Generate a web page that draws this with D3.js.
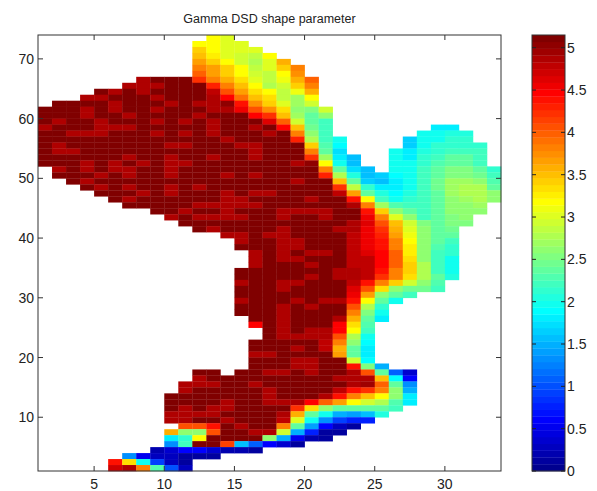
<!DOCTYPE html>
<html>
<head>
<meta charset="utf-8">
<script src="https://d3js.org/d3.v7.min.js"></script>
<style>
  body { margin: 0; background: #fff; }
  text { font-family: "Liberation Sans", Arial, sans-serif; fill: #222; }
</style>
</head>
<body>
<div id="chart"></div>
<script>
var chartTitle = "Gamma DSD shape parameter";
var xTicks = [5, 10, 15, 20, 25, 30];
var yTicks = [10, 20, 30, 40, 50, 60, 70];
var barTicks = [0, 0.5, 1, 1.5, 2, 2.5, 3, 3.5, 4, 4.5, 5];
var maxValue = 5.15;
var _ = null, D = 5.15, L = 4.9;

// [y of the cell, x of first cell, values going right]; null = no data
var gammaRows = [
  [73,13,[3.2,3.0]],
  [72,12,[3.2,3.2,3.0,3.0]],
  [71,12,[3.4,3.2,3.0,3.05,3.05]],
  [70,12,[3.5,3.25,3.0,2.95,2.85,3.15]],
  [69,12,[3.65,3.45,3.15,2.95,2.8,3.05,3.55]],
  [68,12,[3.8,3.65,3.4,3.2,2.85,3.0,3.4,3.85]],
  [67,12,[3.95,3.7,3.45,3.2,2.9,2.85,3.2,3.75]],
  [66,8,[L,D,D,D,4.25,3.8,3.55,3.3,3.0,2.85,3.1,3.55,4.0]],
  [65,7,[L,L,L,D,D,D,4.3,3.8,3.5,3.15,2.8,2.9,3.4,3.8]],
  [64,5,[D,L,D,L,D,D,D,D,4.75,4.05,3.7,3.35,3.2,2.85,3.1,3.55]],
  [63,4,[L,L,D,D,D,L,D,D,D,L,4.45,3.9,3.5,3.3,2.85,2.7,3.2]],
  [62,2,[D,D,D,D,L,D,D,D,L,D,L,L,5.0,4.4,3.75,3.45,3.0,2.7,2.95]],
  [61,1,[D,D,D,L,D,L,D,D,L,D,D,D,L,L,4.55,4.1,3.75,3.3,2.65,2.55,2.9]],
  [60,1,[D,D,D,L,D,D,L,D,D,D,D,L,D,D,D,4.5,4.2,3.5,2.7,2.4,2.65]],
  [59,1,[D,L,D,D,L,D,D,D,L,D,L,D,L,D,D,D,4.6,4.0,2.9,2.35,2.25]],
  [58,1,[L,D,D,D,L,L,L,D,D,D,D,D,L,D,D,L,D,4.45,3.5,2.45,2.2,_,_,_,_,_,_,_,1.85,1.85]],
  [57,1,[D,D,L,L,L,D,D,D,L,D,L,D,L,D,D,D,L,D,3.85,2.65,2.2,_,_,_,_,_,_,1.95,1.95,2.05,2.05]],
  [56,1,[D,D,D,D,D,D,D,D,D,D,D,D,D,L,D,D,D,D,4.3,2.8,2.2,2.0,_,_,_,_,1.65,1.95,2.0,2.1,2.1]],
  [55,1,[D,L,D,D,D,D,D,D,D,L,L,D,D,D,L,L,D,D,D,3.4,2.3,1.9,_,_,_,_,1.65,1.95,2.1,2.15,2.15,2.15]],
  [54,1,[D,L,L,D,D,D,D,D,D,D,D,D,D,D,D,L,D,D,D,3.85,2.4,1.7,_,_,_,2.0,1.8,2.05,2.15,2.2,2.2,2.2]],
  [53,1,[D,D,D,D,D,D,L,D,D,L,D,D,L,D,D,L,D,D,D,4.25,2.7,1.8,1.55,_,_,2.0,1.85,2.1,2.25,2.4,2.4,2.25]],
  [52,1,[D,D,D,L,D,L,D,L,D,L,L,D,D,D,D,D,D,D,L,5.0,3.2,2.0,1.55,_,_,2.0,1.95,2.15,2.3,2.4,2.4,2.25]],
  [51,2,[L,D,L,D,L,L,D,D,L,D,D,D,D,D,D,D,D,D,D,3.8,2.35,1.7,1.6,_,2.0,2.0,2.2,2.35,2.5,2.5,2.4,2.15]],
  [50,2,[D,D,D,L,D,L,D,D,L,D,D,D,L,D,L,D,D,D,D,4.3,2.8,2.05,1.6,1.65,1.9,2.0,2.2,2.4,2.55,2.55,2.45,2.25]],
  [49,3,[D,L,D,D,D,D,D,D,D,D,D,D,D,D,D,D,L,D,D,3.5,2.4,1.65,1.6,1.85,2.0,2.2,2.45,2.7,2.7,2.6,2.3]],
  [48,4,[D,L,D,L,D,D,L,D,L,D,D,D,D,D,D,D,D,D,4.2,2.85,2.1,1.85,1.85,2.0,2.2,2.45,2.7,2.75,2.75,2.4]],
  [47,5,[D,D,D,L,D,L,D,D,D,L,D,L,L,D,D,D,D,4.75,3.7,2.4,2.05,1.9,2.05,2.2,2.4,2.7,2.75,2.75,2.6]],
  [46,6,[D,L,D,D,D,D,D,D,L,L,D,D,D,D,L,D,D,4.4,3.2,2.25,2.0,2.1,2.2,2.35,2.6,2.7,2.75,2.65]],
  [45,7,[D,D,D,D,D,L,L,L,L,L,D,D,D,D,D,D,4.85,3.85,2.7,2.3,2.2,2.2,2.35,2.6,2.65,2.7]],
  [44,9,[D,D,L,D,D,L,D,D,D,L,L,L,L,D,D,4.35,3.4,2.65,2.35,2.25,2.35,2.6,2.65,2.65]],
  [43,10,[L,D,L,L,L,L,D,D,L,D,D,L,D,D,4.55,3.8,3.05,2.65,2.25,2.4,2.55,2.6]],
  [42,11,[D,D,D,D,D,D,D,D,D,D,D,D,4.9,4.6,4.1,3.5,2.9,2.5,2.4,2.5,2.55]],
  [41,12,[D,L,D,D,D,D,L,D,D,D,L,4.85,4.55,4.2,3.6,3.0,2.6,2.4,2.45]],
  [40,14,[L,L,D,L,L,D,D,D,D,4.8,4.55,4.3,3.7,3.1,2.65,2.4,2.35]],
  [39,15,[L,D,D,L,L,D,D,D,4.75,4.55,4.35,3.8,3.2,2.65,2.35,2.2]],
  [38,15,[D,D,D,L,L,D,D,D,4.75,4.55,4.4,3.85,3.25,2.65,2.3,2.15]],
  [37,16,[L,D,L,D,L,L,D,4.8,4.65,4.45,3.95,3.25,2.6,2.2,2.1]],
  [36,16,[L,D,L,L,D,D,D,4.8,4.75,4.45,3.95,3.35,2.6,2.2,2.0]],
  [35,16,[L,D,D,D,L,D,D,4.8,4.75,4.45,3.95,3.45,2.75,2.2,2.0]],
  [34,15,[D,D,D,D,D,D,D,L,4.9,4.75,4.4,3.85,3.45,2.8,2.25,2.0]],
  [33,15,[D,D,D,D,D,L,D,L,L,4.75,4.2,3.8,3.3,2.75,2.35,2.05]],
  [32,15,[L,D,D,L,L,D,D,D,4.8,4.4,3.8,3.4,2.9,2.6,2.3]],
  [31,15,[D,D,D,L,D,D,D,D,4.65,4.05,3.35,2.6,2.45,2.45,2.2]],
  [30,15,[D,D,D,D,D,D,D,D,4.55,3.65,2.6,2.35,2.2]],
  [29,15,[L,D,D,D,L,D,L,L,4.4,3.2,2.4,2.0]],
  [28,15,[D,D,D,L,D,L,D,D,4.05,2.8,2.15]],
  [27,15,[D,D,D,L,D,D,D,D,3.85,2.55,2.0]],
  [26,16,[D,D,L,D,D,D,L,3.6,2.4,1.8]],
  [25,16,[4.45,D,L,D,D,D,4.5,3.35,2.3]],
  [24,17,[D,L,D,L,L,4.45,3.2,2.2]],
  [23,17,[D,L,L,L,L,4.1,2.8,2.0]],
  [22,16,[D,D,D,D,D,4.8,3.8,2.6,1.9]],
  [21,16,[D,D,D,L,D,4.75,3.6,2.4,1.8]],
  [20,16,[L,L,D,D,D,D,3.7,2.4,1.8]],
  [19,16,[D,D,D,L,L,D,D,2.9,1.9]],
  [18,16,[D,D,D,L,L,D,D,4.35,2.5,1.45]],
  [17,12,[D,D,_,D,D,L,L,D,L,D,D,L,4.1,2.35,1.1,0.35]],
  [16,12,[L,D,D,D,D,D,D,D,D,D,L,L,L,3.5,1.9,0.6]],
  [15,11,[L,L,L,D,D,L,D,D,D,D,D,D,4.85,4.95,3.95,2.4,1.3]],
  [14,11,[L,D,D,D,D,D,L,D,D,D,D,4.8,4.4,4.2,3.8,2.6,1.5]],
  [13,10,[D,D,D,D,D,D,D,L,D,D,D,4.85,4.4,3.85,3.5,3.2,2.6,1.8]],
  [12,10,[D,D,D,D,L,D,D,L,L,L,4.45,3.95,3.65,3.2,2.95,2.75,2.3,1.8]],
  [11,10,[D,L,D,L,L,D,D,D,D,4.2,3.35,2.6,2.4,2.35,2.35,2.4,2.25]],
  [10,10,[L,L,L,L,D,D,D,D,L,3.55,2.4,2.0,1.5,1.4,1.6,2.05]],
  [9,10,[L,L,D,D,L,D,D,D,4.8,3.0,2.0,1.3,0.95,0.75,0.75]],
  [8,11,[4.1,4.1,4.4,D,L,D,D,3.8,2.35,1.4,0.6,0.3,0.1]],
  [7,10,[3.6,2.6,2.65,4.05,D,D,L,L,2.9,1.5,0.8,0.15,0.15]],
  [6,10,[1.85,2.1,3.2,D,D,D,D,2.65,1.5,0.5,0.2,0.15]],
  [5,10,[1.3,2.2,D,D,4.15,1.6,1.1,0.6,0.4,0.15]],
  [4,9,[0.2,0.35,0.6,0.6,0.4,0.2,0.2,0.1]],
  [3,7,[1.3,0.5,0.25,0.3,0.1,0.1,0.1]],
  [2,6,[4.4,3.3,2.0,0.9,0.25,0.1]],
  [1,6,[4.7,4.85,3.8,2.3,1.0,0.3]]
];

var width = 597, height = 491;
var plot = {left: 38, right: 501, top: 35, bottom: 471};
var bar = {left: 532, right: 565, top: 35, bottom: 471};

// matlab jet(64)
function jet(n) {
  return d3.range(n).map(function(i) {
    var t = (i + 1) / n;
    var f = function(c) { return Math.max(0, Math.min(1, 1.5 - Math.abs(4 * t - c))); };
    return d3.rgb(f(3) * 255, f(2) * 255, f(1) * 255).formatHex();
  });
}
var jetColors = jet(64);
var color = d3.scaleQuantize().domain([0, maxValue]).range(jetColors);

var x = d3.scaleLinear().domain([1, 34]).range([plot.left, plot.right]);
var y = d3.scaleLinear().domain([1, 74]).range([plot.bottom, plot.top]);
var yBar = d3.scaleLinear().domain([0, maxValue]).range([bar.bottom, bar.top]);

var svg = d3.select("#chart").append("svg")
  .attr("width", width)
  .attr("height", height)
  .style("display", "block");

// flatten rows to cells
var cells = [];
gammaRows.forEach(function(r) {
  r[2].forEach(function(v, i) {
    if (v !== null) cells.push({x: r[1] + i, y: r[0], v: v});
  });
});

svg.append("g").selectAll("rect").data(cells).enter().append("rect")
  .attr("x", function(d) { return x(d.x); })
  .attr("y", function(d) { return y(d.y + 1); })
  .attr("width", function(d) { return x(d.x + 1) - x(d.x) + 0.3; })
  .attr("height", function(d) { return y(d.y) - y(d.y + 1) + 0.3; })
  .attr("fill", function(d) { return color(d.v); });

// box and ticks, mirrored on both sides like matlab
function boxAxes(g, left, right, top, bottom) {
  g.append("rect")
    .attr("x", left).attr("y", top)
    .attr("width", right - left).attr("height", bottom - top)
    .attr("fill", "none").attr("stroke", "#333").attr("stroke-width", 1);
}

var axes = svg.append("g");
boxAxes(axes, plot.left, plot.right, plot.top, plot.bottom);

axes.append("g").selectAll("line").data(xTicks).enter().append("line")
  .attr("x1", function(d) { return x(d); }).attr("x2", function(d) { return x(d); })
  .attr("y1", plot.bottom).attr("y2", plot.bottom - 5).attr("stroke", "#333");
axes.append("g").selectAll("line").data(xTicks).enter().append("line")
  .attr("x1", function(d) { return x(d); }).attr("x2", function(d) { return x(d); })
  .attr("y1", plot.top).attr("y2", plot.top + 5).attr("stroke", "#333");
axes.append("g").selectAll("line").data(yTicks).enter().append("line")
  .attr("y1", function(d) { return y(d); }).attr("y2", function(d) { return y(d); })
  .attr("x1", plot.left).attr("x2", plot.left + 5).attr("stroke", "#333");
axes.append("g").selectAll("line").data(yTicks).enter().append("line")
  .attr("y1", function(d) { return y(d); }).attr("y2", function(d) { return y(d); })
  .attr("x1", plot.right).attr("x2", plot.right - 5).attr("stroke", "#333");

axes.append("g").selectAll("text").data(xTicks).enter().append("text")
  .attr("x", function(d) { return x(d); })
  .attr("y", plot.bottom + 18)
  .attr("text-anchor", "middle")
  .style("font-size", "14px")
  .text(function(d) { return d; });
axes.append("g").selectAll("text").data(yTicks).enter().append("text")
  .attr("x", plot.left - 4)
  .attr("y", function(d) { return y(d) + 5; })
  .attr("text-anchor", "end")
  .style("font-size", "14px")
  .text(function(d) { return d; });

svg.append("text")
  .attr("x", (plot.left + plot.right) / 2)
  .attr("y", 23)
  .attr("text-anchor", "middle")
  .style("font-size", "12.5px")
  .text(chartTitle);

// colorbar
var bands = svg.append("g");
bands.selectAll("rect").data(jetColors).enter().append("rect")
  .attr("x", bar.left)
  .attr("y", function(d, i) { return yBar((i + 1) / 64 * maxValue); })
  .attr("width", bar.right - bar.left)
  .attr("height", function() { return (bar.bottom - bar.top) / 64 + 0.3; })
  .attr("fill", function(d) { return d; });

boxAxes(svg, bar.left, bar.right, bar.top, bar.bottom);

var barAxis = svg.append("g");
barAxis.selectAll("line.l").data(barTicks).enter().append("line").attr("class", "l")
  .attr("y1", function(d) { return yBar(d); }).attr("y2", function(d) { return yBar(d); })
  .attr("x1", bar.left).attr("x2", bar.left + 4).attr("stroke", "#222");
barAxis.selectAll("line.r").data(barTicks).enter().append("line").attr("class", "r")
  .attr("y1", function(d) { return yBar(d); }).attr("y2", function(d) { return yBar(d); })
  .attr("x1", bar.right).attr("x2", bar.right - 4).attr("stroke", "#222");
barAxis.selectAll("text").data(barTicks).enter().append("text")
  .attr("x", bar.right + 2)
  .attr("y", function(d) { return yBar(d) + 5; })
  .style("font-size", "14px")
  .text(function(d) { return d; });
</script>
</body>
</html>
